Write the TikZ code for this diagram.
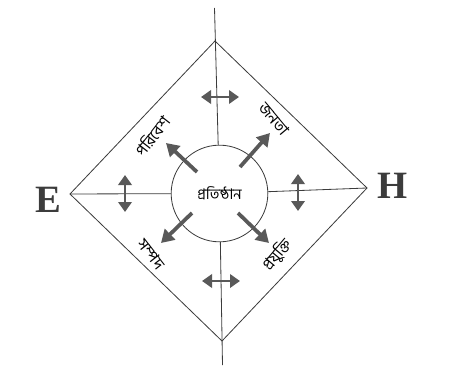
\documentclass[tikz,border=0pt]{standalone}
\usepackage{fontspec}
\usepackage{tikz}
\usetikzlibrary{positioning, arrows.meta, calc}
\setmainfont{Liberation Serif}
\newfontfamily\bnfont[Script=Bengali]{Hind Siliguri}
\definecolor{arrowgray}{HTML}{595959}
\definecolor{linegray}{HTML}{3C3C3C}

\begin{document}
\begin{tikzpicture}[x=0.03cm, y=-0.03cm,
        every node/.style={font=\bnfont\fontsize{13.5}{15}\selectfont},
        edge/.style={draw=linegray, line width=0.7pt},
        outarr/.style={-{Triangle[length=3.8mm, width=4.4mm]}, draw=arrowgray,
          line width=3.2pt},
        dbl/.style={{Triangle[length=3mm, width=4mm]}-{Triangle[length=3mm, width=4mm]},
          draw=arrowgray, line width=2.4pt},
        pole/.style={font=\bfseries\fontsize{33}{33}\selectfont, text=linegray}]
      \useasboundingbox (0,0) rectangle (454,370);
      % corners of the square
      \coordinate (top) at (215,41);
      \coordinate (rgt) at (367,188);
      \coordinate (bot) at (222,341);
      \coordinate (lft) at (70,194);
      \coordinate (ttop) at (214.5,8);
      \coordinate (bbot) at (222.5,365);
      \node[circle, draw=linegray, line width=0.7pt, minimum size=2.9cm,
        font=\bnfont\fontsize{12.5}{14}\selectfont] (org) at (219.5,193.5) {প্রতিষ্ঠান};
      \draw[edge] (top) -- (rgt) -- (bot) -- (lft) -- cycle;
      \draw[edge] (ttop) -- (org);
      \draw[edge] (bbot) -- (org);
      \draw[edge] (lft) -- (org);
      \draw[edge] (rgt) -- (org);
      % E and H
      \node[pole] (e) at (48,199.5) {E};
      \node[pole] (h) at (393,185.5) {H};
      % arrows out of the circle
      \coordinate (a1) at (197,172);  \coordinate (b1) at (166,143);
      \coordinate (a2) at (240,167);  \coordinate (b2) at (270,133);
      \coordinate (a3) at (192,213);  \coordinate (b3) at (161,243);
      \coordinate (a4) at (238,213);  \coordinate (b4) at (269,243);
      \draw[outarr] (a1) -- (b1);
      \draw[outarr] (a2) -- (b2);
      \draw[outarr] (a3) -- (b3);
      \draw[outarr] (a4) -- (b4);
      % two-way arrows
      \coordinate (n1) at (201,97);   \coordinate (n2) at (239,97);
      \coordinate (s1) at (202,281);  \coordinate (s2) at (240,281);
      \coordinate (w1) at (125,175);  \coordinate (w2) at (125,212);
      \coordinate (o1) at (298,174);  \coordinate (o2) at (298,211);
      \draw[dbl] (n1) -- (n2);
      \draw[dbl] (s1) -- (s2);
      \draw[dbl] (w1) -- (w2);
      \draw[dbl] (o1) -- (o2);
      % labels
      \node[rotate=52] (env) at (152,136) {পরিবেশ};
      \node[rotate=-50] (pub) at (274,119) {জনতা};
      \node[rotate=-52] (res) at (151,254) {সম্পদ};
      \node[rotate=50] (tech) at (277,255) {প্রযুক্তি};
    \end{tikzpicture}
\end{document}
